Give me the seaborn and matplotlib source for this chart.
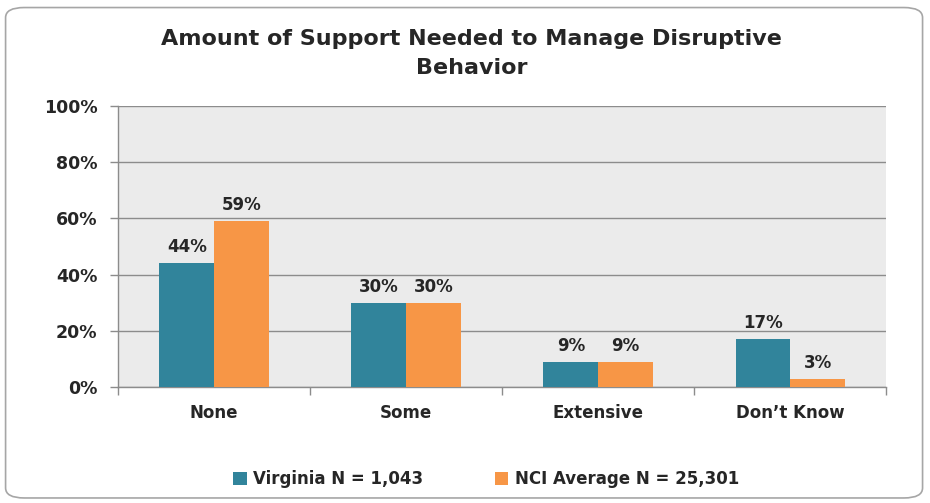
import pandas as pd
import seaborn as sns
import matplotlib.pyplot as plt
from matplotlib.patches import FancyBboxPatch
from matplotlib.ticker import FixedLocator

# Data
categories = ['None', 'Some', 'Extensive', 'Don\u2019t Know']
virginia = [44, 30, 9, 17]
nci_avg = [59, 30, 9, 3]
series_names = ['Virginia N = 1,043', 'NCI Average N = 25,301']
colors = ['#31849B', '#F79646']

df = pd.DataFrame({
    'category': categories * 2,
    'value': virginia + nci_avg,
    'series': [series_names[0]] * 4 + [series_names[1]] * 4,
})

sns.set_style('white')
plt.rcParams['font.family'] = ['DejaVu Sans']
text_color = '#262626'

fig = plt.figure(figsize=(9.3, 5.03), dpi=100)
ax = fig.add_axes([0.127, 0.2306, 0.826, 0.559])

sns.barplot(data=df, x='category', y='value', hue='series', palette=colors,
            width=0.57, gap=0, saturation=1, linewidth=0, ax=ax, zorder=3)

ax.set_facecolor('#EBEBEB')
ax.set_ylim(0, 100)
ax.set_xlim(-0.5, 3.5)
ax.set_yticks(range(0, 101, 20))
ax.set_yticklabels([f'{v}%' for v in range(0, 101, 20)], fontsize=12.5,
                   fontweight='bold', color=text_color)
ax.yaxis.grid(True, color='#8C8C8C', linewidth=1, zorder=0)
ax.set_xlabel('')
ax.set_ylabel('')

ax.tick_params(axis='x', which='major', length=0, pad=12)
for lbl in ax.get_xticklabels():
    lbl.set_fontsize(12)
    lbl.set_fontweight('bold')
    lbl.set_color(text_color)
ax.xaxis.set_minor_locator(FixedLocator([-0.5, 0.5, 1.5, 2.5, 3.5]))
ax.tick_params(axis='x', which='minor', length=6, color='#8C8C8C', width=1,
               direction='out', bottom=True)
ax.tick_params(axis='y', length=6, color='#8C8C8C', width=1, direction='out',
               left=True, pad=9)

for side in ['top', 'right']:
    ax.spines[side].set_visible(False)
for side in ['left', 'bottom']:
    ax.spines[side].set_color('#8C8C8C')
    ax.spines[side].set_linewidth(1)

for cont in ax.containers:
    ax.bar_label(cont, labels=[f'{int(v)}%' for v in cont.datavalues],
                 padding=5, fontsize=12, fontweight='bold', color=text_color)

ax.legend(loc='center', bbox_to_anchor=(0.523, 0.047), bbox_transform=fig.transFigure,
          ncol=2, frameon=False, handlelength=0.8, handleheight=0.8,
          columnspacing=4.3, handletextpad=0.4,
          prop={'size': 12, 'weight': 'bold'})
for t in ax.get_legend().get_texts():
    t.set_color(text_color)

fig.text(0.507, 0.894, 'Amount of Support Needed to Manage Disruptive\nBehavior',
         ha='center', va='center', fontsize=16, fontweight='bold',
         color=text_color, linespacing=1.6)

border = FancyBboxPatch((0.006, 0.01), 0.986, 0.975,
                        boxstyle='round,pad=0,rounding_size=0.02',
                        transform=fig.transFigure, fill=False,
                        edgecolor='#A6A6A6', linewidth=1.2)
fig.patches.append(border)

fig.savefig('out.png', dpi=100)
